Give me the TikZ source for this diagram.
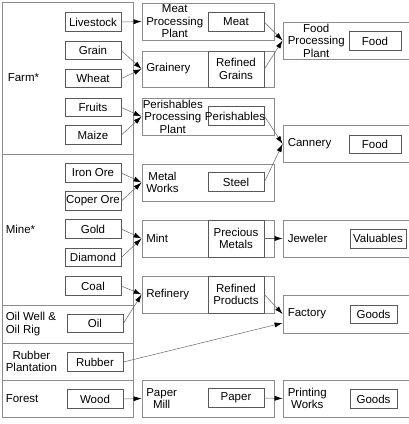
\documentclass[tikz,border=0pt]{standalone}
\usepackage{fontspec}
\setmainfont{Liberation Sans}
\usetikzlibrary{arrows.meta}
\definecolor{outergray}{gray}{0.55}
\definecolor{innergray}{gray}{0.35}
\definecolor{linkgray}{gray}{0.4}
\tikzset{
    sector/.style={draw=outergray, line width=0.8pt, minimum width=131pt, inner sep=0pt},
    item/.style={draw=innergray, line width=0.7pt, minimum width=56pt, minimum height=18.5pt, inner sep=0pt},
    plant/.style={draw=outergray, line width=0.8pt, minimum width=132pt, inner sep=0pt},
    market/.style={draw=outergray, line width=0.8pt, minimum width=129pt, minimum height=37pt, inner sep=0pt},
    product/.style={draw=innergray, line width=0.7pt, minimum width=56pt, minimum height=19.5pt, inner sep=0pt, align=center},
    lbl/.style={anchor=west, inner sep=0pt, align=center},
    link/.style={draw=linkgray, line width=0.5pt, -{Latex[length=8pt,width=5pt,color=black]}}
}
\begin{document}
\begin{tikzpicture}[x=1pt,y=-1pt,font=\fontsize{11.5}{12.5}\selectfont]
                    \useasboundingbox (0,0) rectangle (408,424);
                    \node[sector,minimum height=152pt] (farm) at (67.5,78) {};
                    \node[sector,minimum height=151pt] (mine) at (67.5,229.5) {};
                    \node[sector,minimum height=38pt] (oilwell) at (67.5,324) {};
                    \node[sector,minimum height=37pt] (rubberplant) at (67.5,361.5) {};
                    \node[sector,minimum height=37pt] (forest) at (67.5,398.5) {};
                    \node[lbl] (farmlbl) at ([xshift=6pt]farm.west) {Farm*};
                    \node[lbl] (minelbl) at ([xshift=4pt]mine.west) {Mine*};
                    \node[lbl,align=left] (oilwelllbl) at ([xshift=4pt]oilwell.west) {Oil Well \&\\Oil Rig};
                    \node[lbl] (rubberplantlbl) at ([xshift=4pt]rubberplant.west) {Rubber\\Plantation};
                    \node[lbl] (forestlbl) at ([xshift=4pt]forest.west) {Forest};

                    \node[item] (livestock) at (93,22) {Livestock};
                    \node[item] (grain) at (93,50.5) {Grain};
                    \node[item] (wheat) at (93,78.5) {Wheat};
                    \node[item] (fruits) at (93,107.5) {Fruits};
                    \node[item] (maize) at (93,135) {Maize};
                    \node[item] (ironore) at (93,173) {Iron Ore};
                    \node[item] (coperore) at (93,201) {Coper Ore};
                    \node[item] (gold) at (93,229) {Gold};
                    \node[item] (diamond) at (93,257.5) {Diamond};
                    \node[item] (coal) at (93,286) {Coal};
                    \node[item] (oil) at (95,323.5) {Oil};
                    \node[item] (rubber) at (95,362) {Rubber};
                    \node[item] (wood) at (95,399) {Wood};

                    \node[plant,minimum height=37pt] (meatplant) at (208,21.5) {};
                    \node[plant,minimum height=36pt] (grainery) at (208,69) {};
                    \node[plant,minimum height=37pt] (perishplant) at (208,116.5) {};
                    \node[plant,minimum height=37pt] (metalworks) at (208,182.5) {};
                    \node[plant,minimum height=37pt] (mint) at (208,238.5) {};
                    \node[plant,minimum height=37pt] (refinery) at (208,294.5) {};
                    \node[plant,minimum height=37pt] (papermill) at (208,398.5) {};
                    \node[lbl] (meatplantlbl) at ([xshift=4.5pt]meatplant.west) {Meat\\Processing\\Plant};
                    \node[lbl] (grainerylbl) at ([xshift=4.5pt]grainery.west) {Grainery};
                    \node[lbl] (perishplantlbl) at ([xshift=1pt]perishplant.west) {Perishables\\Processing\\Plant};
                    \node[lbl] (metalworkslbl) at ([xshift=4.5pt]metalworks.west) {Metal\\Works};
                    \node[lbl] (mintlbl) at ([xshift=4.5pt]mint.west) {Mint};
                    \node[lbl] (refinerylbl) at ([xshift=4.5pt]refinery.west) {Refinery};
                    \node[lbl] (papermilllbl) at ([xshift=4.5pt]papermill.west) {Paper\\Mill};

                    \node[product] (meat) at (236,22) {Meat};
                    \node[product,minimum height=36pt] (refgrains) at (236,69) {Refined\\Grains};
                    \node[product] (perishables) at (236,116) {};
                    \node[inner sep=0pt] (perishableslbl) at (235,116) {Perishables};
                    \node[product] (steel) at (236,182) {Steel};
                    \node[product,minimum height=37pt] (precious) at (236,238.5) {Precious\\Metals};
                    \node[product,minimum height=37pt] (refproducts) at (236,294.5) {Refined\\Products};
                    \node[product] (paper) at (236,398) {Paper};

                    \node[market] (foodplant) at (347.5,40.5) {};
                    \node[market] (cannery) at (347.5,144) {};
                    \node[market] (jeweler) at (347.5,238.5) {};
                    \node[market,minimum height=38pt] (factory) at (347.5,314) {};
                    \node[market] (printing) at (347.5,398.5) {};
                    \node[lbl] (foodplantlbl) at ([xshift=5pt]foodplant.west) {Food\\Processing\\Plant};
                    \node[lbl] (cannerylbl) at ([xshift=5pt]cannery.west) {Cannery};
                    \node[lbl] (jewelerlbl) at ([xshift=5pt]jeweler.west) {Jeweler};
                    \node[lbl] (factorylbl) at ([xshift=5pt]factory.west) {Factory};
                    \node[lbl] (printinglbl) at ([xshift=5pt]printing.west) {Printing\\Works};

                    \node[product,minimum width=52pt,minimum height=18.5pt] (food) at (375,41) {Food};
                    \node[product,minimum width=52pt,minimum height=18.5pt] (cannedfood) at (375,144.5) {Food};
                    \node[product,minimum width=56pt,minimum height=19pt] (valuables) at (378,238.5) {Valuables};
                    \node[product,minimum width=47pt,minimum height=18pt] (goods) at (373.5,314.5) {Goods};
                    \node[product,minimum width=47pt,minimum height=18.5pt] (printgoods) at (373.5,399) {Goods};

                    \draw[link] (livestock.east) -- (meatplant.west);
                    \draw[link] (grain.east) -- (grainery.west);
                    \draw[link] (wheat.east) -- (grainery.west);
                    \draw[link] (fruits.east) -- (perishplant.west);
                    \draw[link] (maize.east) -- (perishplant.west);
                    \draw[link] (ironore.east) -- (metalworks.west);
                    \draw[link] (coperore.east) -- (metalworks.west);
                    \draw[link] (gold.east) -- (mint.west);
                    \draw[link] (diamond.east) -- (mint.west);
                    \draw[link] (coal.east) -- (refinery.west);
                    \draw[link] (oil.east) -- (refinery.west);
                    \draw[link] (wood.east) -- (papermill.west);
                    \draw[link] (meat.east) -- (foodplant.west);
                    \draw[link] (refgrains.east) -- (foodplant.west);
                    \draw[link] (perishables.east) -- (cannery.west);
                    \draw[link] (steel.east) -- (cannery.west);
                    \draw[link] (precious.east) -- (jeweler.west);
                    \draw[link] (refproducts.east) -- (factory.west);
                    \draw[link] (rubber.east) -- ([yshift=-9pt]factory.west);
                    \draw[link] (paper.east) -- (printing.west);
                \end{tikzpicture}
\end{document}
